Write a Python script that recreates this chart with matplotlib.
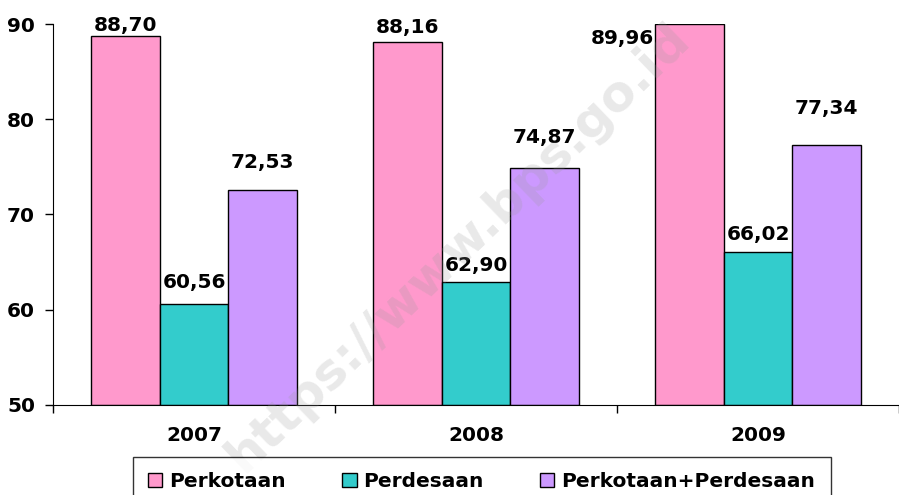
import numpy as np
import matplotlib
matplotlib.use('Agg')
from matplotlib import pyplot

years = ['2007', '2008', '2009']
series_names = ['Perkotaan', 'Perdesaan', 'Perkotaan+Perdesaan']
perkotaan = [88.70, 88.16, 89.96]
perdesaan = [60.56, 62.90, 66.02]
gabungan = [72.53, 74.87, 77.34]
yticks = [50, 60, 70, 80, 90]

colors = ['#FF99CC', '#33CCCC', '#CC99FF']
# label offsets in points (dx, dy) per series / year
offsets = [
    [(0, 1), (0, 3), (-48, -17)],
    [(0, 9), (0, 5), (0, 6)],
    [(0, 13), (0, 15), (0, 19)],
]

pyplot.rcParams['font.family'] = 'DejaVu Sans'
pyplot.rcParams['font.weight'] = 'bold'
fs = 14.5

fig = pyplot.figure(figsize=(8.99, 4.95), dpi=100)
ax = fig.add_axes([0.059, 0.182, 0.941, 0.7695])

x = np.arange(len(years))
width = 0.243
values = [perkotaan, perdesaan, gabungan]
for i, vals in enumerate(values):
    pos = x + (i - 1) * width
    ax.bar(pos, np.array(vals) - 50, width, bottom=50, color=colors[i],
           edgecolor='black', linewidth=1.0, label=series_names[i])
    for j, v in enumerate(vals):
        dx, dy = offsets[i][j]
        ax.annotate(f'{v:.2f}'.replace('.', ','), (pos[j], v), xytext=(dx, dy),
                    textcoords='offset points', ha='center', va='bottom',
                    fontsize=fs, fontweight='bold')

ax.set_ylim(50, 90)
ax.set_xlim(-0.5, 2.5)
ax.set_yticks(yticks)
ax.set_yticklabels([str(t) for t in yticks], fontsize=fs, fontweight='bold')
ax.set_xticks(x)
ax.set_xticklabels(years, fontsize=fs, fontweight='bold')
ax.set_xticks([-0.5, 0.5, 1.5, 2.5], minor=True)
ax.tick_params(axis='x', which='major', length=0, pad=15)
ax.tick_params(axis='x', which='minor', length=6, width=1, direction='out')
ax.tick_params(axis='y', length=6, width=1, pad=7)
ax.spines['top'].set_visible(False)
ax.spines['right'].set_visible(False)

leg = fig.legend(loc='upper center', bbox_to_anchor=(0.536, 0.077), ncol=3,
                 prop={'size': fs, 'weight': 'bold'}, frameon=True, fancybox=False,
                 edgecolor='black', handlelength=0.7, handleheight=0.7,
                 handletextpad=0.35, columnspacing=2.8, borderpad=0.75,
                 borderaxespad=0)
leg.get_frame().set_linewidth(1.0)

fig.text(0.51, 0.5, 'https://www.bps.go.id', rotation=44, ha='center', va='center',
         fontsize=36, fontweight='bold', color='#999999', alpha=0.22)

fig.savefig('out.png', dpi=100)
